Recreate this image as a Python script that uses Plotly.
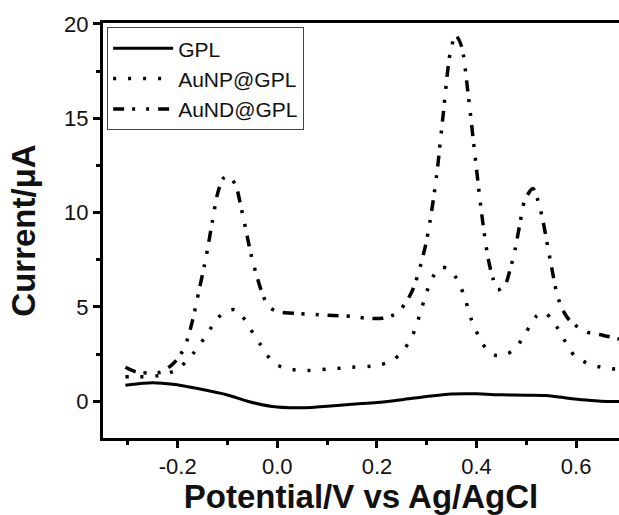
import plotly.graph_objects as go

# Differential pulse voltammograms (current vs potential)
gpl_potential = [-0.305, -0.27, -0.25, -0.21, -0.16, -0.10, -0.06, -0.01, 0.04, 0.07,
                 0.10, 0.15, 0.20, 0.25, 0.30, 0.35, 0.40, 0.45, 0.50, 0.54,
                 0.58, 0.62, 0.65, 0.686]
gpl_current = [0.85, 0.95, 0.98, 0.90, 0.67, 0.33, 0.00, -0.28, -0.35, -0.33,
               -0.27, -0.16, -0.07, 0.08, 0.25, 0.38, 0.39, 0.34, 0.32, 0.30,
               0.17, 0.06, 0.00, -0.01]

aunp_potential = [-0.305, -0.28, -0.26, -0.23, -0.20, -0.17, -0.14, -0.12, -0.10, -0.085,
                  -0.07, -0.057, -0.033, -0.01, 0.01, 0.03, 0.06, 0.10, 0.15, 0.20,
                  0.23, 0.25, 0.27, 0.285, 0.30, 0.315, 0.33, 0.345, 0.36, 0.375,
                  0.39, 0.41, 0.425, 0.442, 0.46, 0.477, 0.50, 0.52, 0.535, 0.555,
                  0.575, 0.597, 0.633, 0.67, 0.686]
aunp_current = [1.30, 1.30, 1.30, 1.40, 1.70, 2.50, 3.60, 4.40, 4.80, 4.85,
                4.50, 3.95, 2.97, 2.10, 1.80, 1.68, 1.63, 1.70, 1.80, 1.90,
                2.15, 2.60, 3.40, 4.50, 5.80, 6.70, 7.10, 7.00, 6.50, 5.60,
                4.30, 3.15, 2.60, 2.40, 2.50, 2.76, 3.68, 4.50, 4.72, 4.20,
                3.30, 2.40, 1.91, 1.73, 1.70]

aund_potential = [-0.305, -0.283, -0.257, -0.233, -0.213, -0.197, -0.183, -0.17, -0.157, -0.143,
                  -0.13, -0.12, -0.109, -0.097, -0.083, -0.073, -0.063, -0.053, -0.043, -0.03,
                  -0.017, 0.003, 0.04, 0.10, 0.15, 0.18, 0.21, 0.24, 0.257, 0.27,
                  0.283, 0.297, 0.307, 0.32, 0.333, 0.347, 0.358, 0.37, 0.383, 0.397,
                  0.41, 0.423, 0.433, 0.442, 0.457, 0.467, 0.477, 0.487, 0.497, 0.513,
                  0.523, 0.533, 0.543, 0.553, 0.563, 0.577, 0.59, 0.62, 0.653, 0.686]
aund_current = [1.80, 1.55, 1.50, 1.55, 1.90, 2.35, 3.10, 4.30, 5.90, 7.65,
                9.60, 11.00, 11.80, 11.95, 11.40, 10.30, 9.07, 7.80, 6.80, 5.70,
                5.00, 4.74, 4.65, 4.56, 4.50, 4.40, 4.40, 4.66, 5.20, 5.80,
                6.77, 8.19, 9.60, 12.00, 15.20, 18.45, 19.40, 18.80, 16.30, 13.00,
                10.00, 7.60, 6.50, 5.90, 6.15, 6.95, 8.00, 9.40, 10.66, 11.28,
                10.66, 9.60, 8.19, 6.77, 5.53, 4.65, 4.20, 3.68, 3.50, 3.30]

x_ticks = [-0.2, 0.0, 0.2, 0.4, 0.6]
x_tick_text = ["-0.2", "0.0", "0.2", "0.4", "0.6"]
y_ticks = [0, 5, 10, 15, 20]

series_names = ["GPL", "AuNP@GPL", "AuND@GPL"]

fig = go.Figure()
fig.add_trace(go.Scatter(
    x=gpl_potential, y=gpl_current, name=series_names[0], mode="lines",
    line=dict(color="black", width=3, shape="spline", smoothing=0.8),
))
fig.add_trace(go.Scatter(
    x=aunp_potential, y=aunp_current, name=series_names[1], mode="lines",
    line=dict(color="black", width=3.5, dash="3px,12px", shape="spline", smoothing=0.8),
))
fig.add_trace(go.Scatter(
    x=aund_potential, y=aund_current, name=series_names[2], mode="lines",
    line=dict(color="black", width=3.5, dash="11px,8px,3px,11px,3px,9px",
              shape="spline", smoothing=0.8),
))

FONT = "Liberation Sans, Arial, sans-serif"
axis_font = dict(family=FONT, size=22, color="#111")

fig.update_layout(
    width=619, height=515,
    margin=dict(l=103, r=0, t=23, b=77),
    paper_bgcolor="white", plot_bgcolor="white",
    showlegend=True,
    legend=dict(
        x=0.008, y=0.99, xanchor="left", yanchor="top",
        bgcolor="white", bordercolor="#444", borderwidth=1,
        font=dict(family=FONT, size=21, color="#111"),
        itemwidth=60, tracegroupgap=0,
    ),
    xaxis=dict(
        range=[-0.35, 0.686], tickvals=x_ticks, ticktext=x_tick_text,
        showgrid=False, zeroline=False,
        showline=True, linecolor="black", linewidth=3, mirror=True,
        ticks="outside", ticklen=7, tickwidth=2.5, tickcolor="black",
        minor=dict(dtick=0.1, tick0=-0.3, ticks="outside", ticklen=4,
                   tickwidth=2.5, tickcolor="black", showgrid=False),
        tickfont=axis_font,
        title=dict(text="<b>Potential/V vs Ag/AgCl</b>",
                   font=dict(family=FONT, size=33, color="#111"), standoff=13),
    ),
    yaxis=dict(
        range=[-1.95, 20.05], tickvals=y_ticks,
        showgrid=False, zeroline=False,
        showline=True, linecolor="black", linewidth=3,
        ticks="outside", ticklen=7, tickwidth=2.5, tickcolor="black",
        minor=dict(dtick=2.5, tick0=0, ticks="outside", ticklen=4,
                   tickwidth=2.5, tickcolor="black", showgrid=False),
        tickfont=axis_font,
        title=dict(text="<b>Current/μA</b>",
                   font=dict(family=FONT, size=33, color="#111"), standoff=19),
    ),
)

fig.write_html("out.html")
